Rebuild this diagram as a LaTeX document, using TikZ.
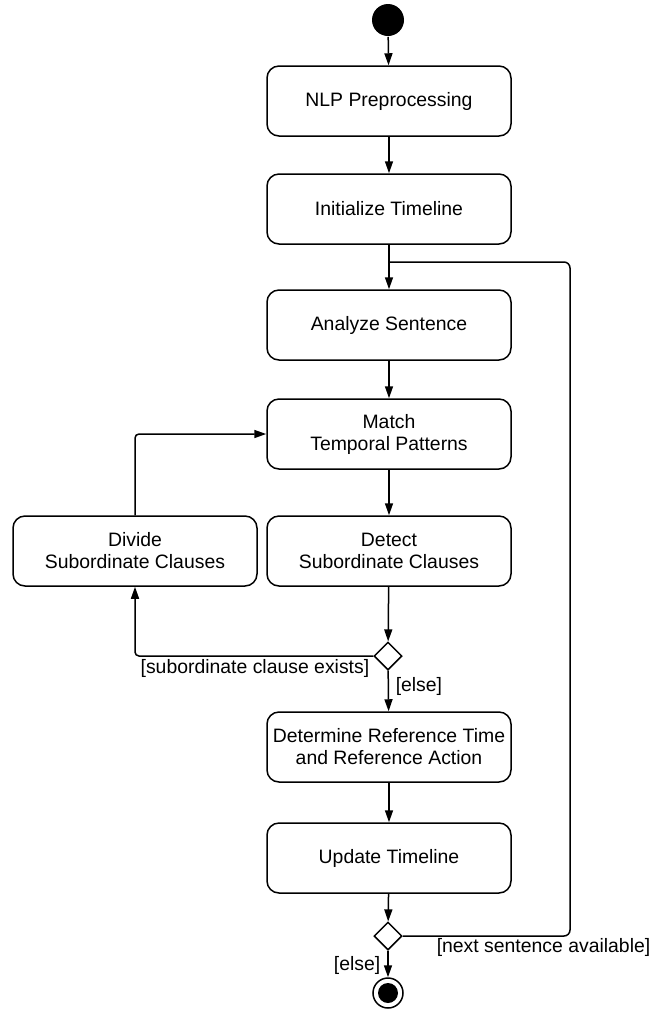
\documentclass[tikz,border=0pt]{standalone}
\usepackage{fontspec}
\setmainfont{Liberation Sans}
\usetikzlibrary{arrows.meta}
\usetikzlibrary{shapes.geometric}

\begin{document}
\begin{tikzpicture}[x=0.5pt,y=-0.5pt,line width=0.75pt,
		font=\fontsize{9.7}{11}\selectfont]
	\useasboundingbox (0,0) rectangle (660,1009);
	
	\begin{scope}[every node/.style={rectangle,rounded corners=6pt,draw,line width=0.75pt,
			minimum width=122pt,minimum height=35pt,inner sep=0pt,align=center}]
		\node (prep) at (389,101) {NLP Preprocessing};
		\node (init) at (389,209) {Initialize Timeline};
		\node (analyze) at (389,325) {Analyze Sentence};
		\node (match) at (389,434) {Match\\Temporal Patterns};
		\node (detect) at (389,551) {Detect\\Subordinate Clauses};
		\node (divide) at (135,551) {Divide\\Subordinate Clauses};
		\node (refer) at (389,747) {Determine Reference Time\\and Reference Action};
		\node (update) at (389,858) {Update Timeline};
	\end{scope}
	
	\begin{scope}[every node/.style={diamond,draw,line width=0.75pt,aspect=1,
			minimum size=14pt,inner sep=0pt}]
		\node (dec1) at (388,656) {};
		\node (dec2) at (388,936) {};
	\end{scope}
	
	\node[circle,fill=black,minimum size=16pt,inner sep=0pt] (start) at (388,20) {};
	\node[circle,draw,line width=0.75pt,minimum size=15pt,inner sep=0pt] (stop) at (388,993) {};
	\node[circle,fill=black,minimum size=10pt,inner sep=0pt] (stopdot) at (stop) {};
	\coordinate (loop) at (570,262);
	
	\begin{scope}[>={Triangle[length=6pt,width=4pt]},
		every node/.style={inner sep=1pt}]
		\path [->] (start) edge (prep);
		\path [->] (prep) edge (init);
		\path [->] (init) edge (analyze);
		\path [->] (analyze) edge (match);
		\path [->] (match) edge (detect);
		\path [->] (detect) edge (dec1);
		\path [->] (dec1) edge (refer);
		\path [->] (refer) edge (update);
		\path [->] (update) edge (dec2);
		\path [->] (dec2) edge (stop);
		
		\draw [->,rounded corners=2pt] (dec1.west) -| (divide.south);%exists%
		\draw [->,rounded corners=2pt] (divide.north) |- (match.west);
		\draw [rounded corners=3pt] (dec2.east) -| (loop) -- (init.south |- loop);%next%
		
		\node[anchor=north east] (lexists) at (372,657) {[subordinate clause exists]};
		\node[anchor=west] (lelse) at (393,686) {[else]};
		\node[anchor=west] (lnext) at (434,947) {[next sentence available]};
		\node[anchor=east] (lend) at (383,965) {[else]};
	\end{scope}
\end{tikzpicture}
\end{document}
